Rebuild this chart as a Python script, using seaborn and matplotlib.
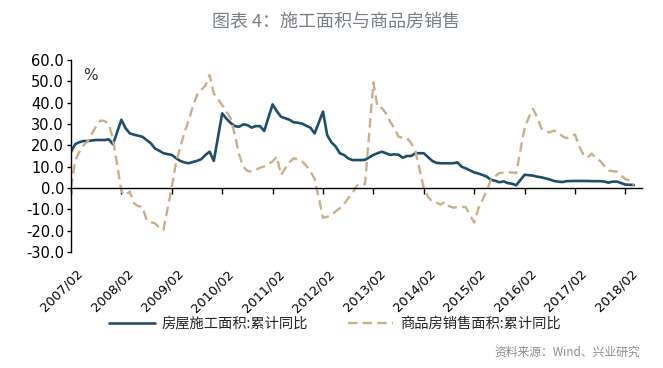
import matplotlib
matplotlib.use("Agg")
import matplotlib.pyplot as plt
import matplotlib.transforms as mtransforms
import pandas as pd
import seaborn as sns

# ---------------- data ----------------
tick_labels = ["2007/02", "2008/02", "2009/02", "2010/02", "2011/02", "2012/02",
               "2013/02", "2014/02", "2015/02", "2016/02", "2017/02", "2018/02"]

# monthly observations (January is not published): Feb..Dec of each year, 2018 Feb..Apr
construction_yoy = [
    17.0, 20.5, 21.5, 22.0, 22.0, 22.3, 22.5, 22.5, 22.5, 22.8, 20.5,   # 2007
    32.0, 28.0, 25.6, 25.0, 24.5, 24.0, 22.5, 21.0, 18.5, 17.5, 16.3,   # 2008
    15.5, 14.0, 12.7, 12.0, 11.6, 12.2, 12.7, 13.5, 15.5, 17.0, 12.7,   # 2009
    35.0, 32.5, 30.5, 29.0, 28.7, 29.8, 29.5, 28.3, 29.0, 29.0, 26.7,   # 2010
    39.2, 36.0, 33.4, 32.7, 32.0, 30.8, 30.6, 30.2, 29.2, 28.3, 25.6,   # 2011
    35.8, 24.8, 21.4, 19.5, 16.3, 15.5, 13.9, 13.1, 13.1, 13.1, 13.2,   # 2012
    15.5, 16.3, 17.0, 16.3, 15.5, 15.8, 15.6, 14.2, 15.0, 15.0, 16.3,   # 2013
    16.3, 14.5, 12.7, 11.8, 11.6, 11.6, 11.6, 11.6, 12.0, 10.0, 9.2,    # 2014
    7.3, 6.8, 6.1, 5.3, 3.8, 3.4, 2.7, 3.1, 2.3, 2.0, 1.3,              # 2015
    6.2, 6.0, 5.8, 5.3, 5.0, 4.5, 4.0, 3.3, 3.0, 2.8, 3.2,              # 2016
    3.3, 3.3, 3.3, 3.3, 3.2, 3.2, 3.2, 3.0, 2.5, 3.0, 3.0,              # 2017
    1.6, 1.5, 1.4,                                                      # 2018
]

sales_yoy = [
    0.0, 13.0, 17.0, 20.0, 22.0, 25.5, 29.0, 31.6, 31.4, 30.0, 23.0,            # 2007
    -1.7, -3.3, -1.7, -7.2, -8.5, -8.8, -15.0, -16.0, -16.6, -18.5, -19.7,      # 2008
    0.5, 12.0, 19.0, 26.0, 31.5, 38.0, 43.6, 46.0, 48.0, 53.0, 44.4,            # 2009
    38.9, 35.8, 32.7, 25.0, 15.9, 10.0, 8.0, 7.7, 8.5, 9.5, 10.1,               # 2010
    12.5, 14.7, 6.1, 9.2, 12.0, 13.9, 13.5, 12.5, 10.5, 7.7, 4.4,               # 2011
    -14.0, -13.5, -12.7, -11.0, -9.5, -7.5, -4.8, -2.5, 1.0, 2.2, 1.8,          # 2012
    49.5, 37.9, 37.5, 35.0, 31.0, 28.0, 24.0, 23.5, 23.3, 21.0, 17.3,           # 2013
    -0.1, -4.1, -6.4, -6.8, -7.8, -6.5, -8.5, -9.2, -9.0, -8.8, -9.0,           # 2014
    -16.3, -9.5, -5.5, -1.0, 3.9, 5.5, 7.0, 7.2, 7.3, 7.3, 7.0,                 # 2015
    28.2, 33.1, 37.1, 33.2, 27.9, 26.4, 26.1, 26.9, 26.0, 24.3, 23.3,           # 2016
    25.1, 19.5, 15.7, 14.3, 16.1, 14.0, 12.7, 10.3, 8.2, 7.9, 7.7,              # 2017
    4.1, 3.6, 1.3,                                                              # 2018
]

series_names = ["房屋施工面积:累计同比", "商品房销售面积:累计同比"]

# month positions (months since 2007/02), skipping January
positions = []
for year in range(2007, 2019):
    last = 4 if year == 2018 else 12
    for month in range(2, last + 1):
        positions.append((year - 2007) * 12 + (month - 2))

df = pd.DataFrame({"pos": positions,
                   "construction": construction_yoy,
                   "sales": sales_yoy})

# ---------------- style ----------------
sns.set_theme(style="white")
plt.rcParams["font.family"] = ["Noto Sans CJK SC", "DejaVu Sans"]
plt.rcParams["axes.unicode_minus"] = False

W, H = 663, 368
fig = plt.figure(figsize=(W / 100, H / 100), dpi=100)
fig.patch.set_facecolor("white")

left_px, right_px, top_px, bottom_px = 71, 642, 60, 252
ax = fig.add_axes([left_px / W, 1 - bottom_px / H,
                   (right_px - left_px) / W, (bottom_px - top_px) / H])

blue = "#1f4e6b"
tan = "#c9b08b"

sns.lineplot(data=df, x="pos", y="construction", ax=ax, color=blue,
             linewidth=1.9, label=series_names[0], legend=False)
sns.lineplot(data=df, x="pos", y="sales", ax=ax, color=tan,
             linewidth=1.7, label=series_names[1], legend=False)
ax.lines[1].set_dashes((4.0, 2.2))

ax.set_xlim(0, (right_px - left_px) / 4.2)
ax.set_ylim(-30, 60)
ax.set_xlabel("")
ax.set_ylabel("")

yt = list(range(-30, 61, 10))
ax.set_yticks(yt)
ax.set_yticklabels([f"{v:.1f}" for v in yt], fontsize=10.5, color="black",
                   family="DejaVu Sans")

for s in ["top", "right"]:
    ax.spines[s].set_visible(False)
ax.spines["left"].set_color("black")
ax.spines["left"].set_linewidth(1.0)
ax.spines["bottom"].set_position(("data", 0))
ax.spines["bottom"].set_color("black")
ax.spines["bottom"].set_linewidth(1.0)

tick_pos = [12 * k for k in range(len(tick_labels))]
ax.set_xticks(tick_pos)
ax.set_xticklabels([])
ax.tick_params(axis="x", bottom=True, direction="out", length=4, width=1,
               color="black")
ax.tick_params(axis="y", left=True, direction="out", length=3, width=1,
               color="black", pad=2)

sec = ax.secondary_xaxis(0.0)
sec.set_xticks(tick_pos)
sec.set_xticklabels(tick_labels, rotation=45, ha="right", va="top",
                    rotation_mode="anchor", fontsize=9.3, color="black",
                    family="DejaVu Sans")
sec.tick_params(length=0, pad=11)
sec.spines["bottom"].set_visible(False)
shift = mtransforms.ScaledTranslation(5 / 100, 0, fig.dpi_scale_trans)
for lab in sec.get_xticklabels():
    lab.set_transform(lab.get_transform() + shift)

ax.text(83 / W, 1 - 75 / H, "%", transform=fig.transFigure, fontsize=11,
        ha="left", va="center", color="#333333", family="DejaVu Sans")

fig.text(0.507, 1 - 22 / H, "图表 4：施工面积与商品房销售", ha="center",
         va="center", fontsize=13, color="#7a8088")

handles = ax.lines[:2]
fig.legend(handles, series_names, loc="center",
           bbox_to_anchor=(0.505, 1 - 324 / H), ncol=2, frameon=False,
           fontsize=10.3, handlelength=3.2, columnspacing=2.8, handletextpad=0.45)

fig.text(640 / W, 1 - 352 / H, "资料来源：Wind、兴业研究", ha="right",
         va="center", fontsize=8.5, color="#8c8c8c")

fig.savefig("out.png", dpi=100, facecolor="white")
